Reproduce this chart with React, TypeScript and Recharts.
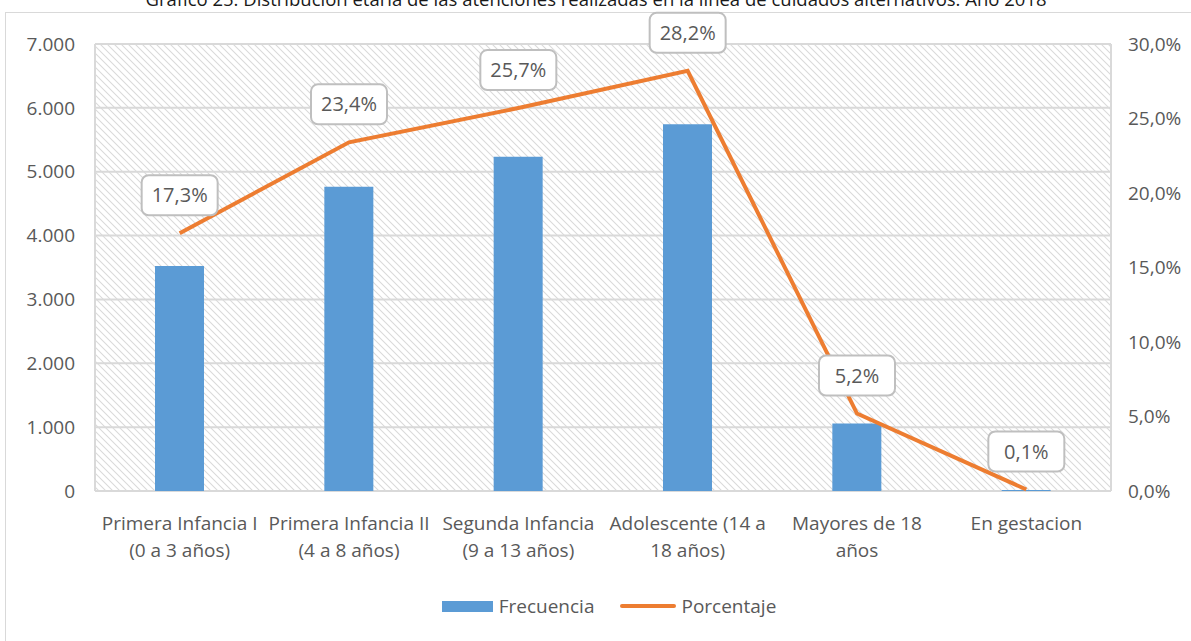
import { ComposedChart, Bar, Line, XAxis, YAxis, CartesianGrid, Legend, LabelList } from "recharts";

const CATEGORIES = [
  "Primera Infancia I\n(0 a 3 años)",
  "Primera Infancia II\n(4 a 8 años)",
  "Segunda Infancia\n(9 a 13 años)",
  "Adolescente  (14 a\n18 años)",
  "Mayores de 18\naños",
  "En gestacion",
];
const FRECUENCIA = [3523, 4765, 5234, 5743, 1059, 15];
const PORCENTAJE = [17.3, 23.4, 25.7, 28.2, 5.2, 0.1];
const LEFT_TICKS = [0, 1000, 2000, 3000, 4000, 5000, 6000, 7000];
const RIGHT_TICKS = [0, 5, 10, 15, 20, 25, 30];
const BOUNDS = [0, 1, 2, 3, 4, 5, 6];

const FONT = "'Liberation Sans Narrow', 'Arial Narrow', 'Open Sans', sans-serif";
const TEXT = "#595959";
const GRID = "#d9d9d9";
const BLUE = "#5B9BD5";
const ORANGE = "#ED7D31";

const data = CATEGORIES.map((name, i) => ({
  name,
  frecuencia: FRECUENCIA[i],
  porcentaje: PORCENTAJE[i],
}));

const fmtThousands = (v: number) => String(v).replace(/\B(?=(\d{3})+(?!\d))/g, ".");
const fmtPct = (v: number) => v.toFixed(1).replace(".", ",") + "%";

const CategoryTick = ({ x, y, payload }: any) => {
  const lines = String(payload.value).split("\n");
  return (
    <text textAnchor="middle" fill={TEXT} fontSize={19} fontFamily={FONT}>
      {lines.map((l, i) => (
        <tspan key={i} x={x} y={y + 32 + i * 27} dy="0.35em">
          {l}
        </tspan>
      ))}
    </text>
  );
};

const PctLabel = ({ x, y, value }: any) => {
  const cy = y - 38;
  return (
    <g>
      <rect x={x - 38} y={cy - 20} width={76} height={40} rx={7} fill="#fff" stroke="#bfbfbf" strokeWidth={2} />
      <text x={x} y={cy} dy="0.35em" textAnchor="middle" fill={TEXT} fontSize={20} fontFamily={FONT}>
        {fmtPct(value)}
      </text>
    </g>
  );
};

const LegendContent = () => (
  <div style={{ display: "flex", justifyContent: "center", alignItems: "center", height: 30, fontFamily: FONT, fontSize: 19, color: TEXT, paddingLeft: 12 }}>
    <span style={{ display: "inline-block", width: 51, height: 11, background: BLUE, marginRight: 6 }} />
    <span style={{ marginRight: 26 }}>Frecuencia</span>
    <span style={{ display: "inline-block", width: 56, height: 4, borderRadius: 2, background: ORANGE, marginRight: 5 }} />
    <span>Porcentaje</span>
  </div>
);

export default function App() {
  return (
    <div style={{ position: "absolute", left: 0, top: 0, width: 1191, height: 641, background: "#fff", overflow: "hidden" }}>
      <div style={{ position: "absolute", left: 5, top: 12, width: 1300, height: 800, border: `1.5px solid ${GRID}` }} />
      <div style={{ position: "absolute", left: 0, top: 0 }}>
        <ComposedChart width={1191} height={641} data={data} margin={{ top: 44, right: 0, bottom: 20, left: 15 }}>
          <defs>
            <pattern id="hatch" patternUnits="userSpaceOnUse" width={7} height={7}>
              <path d="M0,0 L7,7 M-1,6 L1,8 M6,-1 L8,1" stroke="#dadada" strokeWidth={1.1} />
            </pattern>
          </defs>
          <XAxis
            xAxisId="grid"
            type="number"
            domain={[0, 6]}
            ticks={BOUNDS}
            height={0}
            tick={false}
            tickSize={10}
            tickLine={{ stroke: GRID, strokeWidth: 2 }}
            axisLine={false}
          />
          <XAxis
            xAxisId="cat"
            dataKey="name"
            height={100}
            interval={0}
            tickSize={0}
            tickMargin={0}
            tickLine={false}
            axisLine={false}
            tick={<CategoryTick />}
          />
          <YAxis
            yAxisId="left"
            width={80}
            domain={[0, 7000]}
            ticks={LEFT_TICKS}
            tickFormatter={fmtThousands}
            tickSize={0}
            tickMargin={20}
            axisLine={false}
            tickLine={false}
            tick={{ fill: TEXT, fontSize: 19, fontFamily: FONT }}
          />
          <YAxis
            yAxisId="right"
            orientation="right"
            width={80}
            domain={[0, 30]}
            ticks={RIGHT_TICKS}
            tickFormatter={fmtPct}
            tickSize={0}
            tickMargin={17}
            axisLine={false}
            tickLine={false}
            tick={{ fill: TEXT, fontSize: 19, fontFamily: FONT, textAnchor: "start" }}
          />
          <CartesianGrid
            xAxisId="grid"
            yAxisId="left"
            stroke={GRID}
            strokeWidth={2}
            fill="url(#hatch)"
            fillOpacity={1}
          />
          <Legend verticalAlign="bottom" height={30} content={<LegendContent />} />
          <Bar xAxisId="cat" yAxisId="left" dataKey="frecuencia" name="Frecuencia" fill={BLUE} barSize={49} isAnimationActive={false} />
          <Line
            xAxisId="cat"
            yAxisId="right"
            dataKey="porcentaje"
            name="Porcentaje"
            type="linear"
            stroke={ORANGE}
            strokeWidth={4}
            dot={false}
            isAnimationActive={false}
          >
            <LabelList dataKey="porcentaje" content={<PctLabel />} />
          </Line>
        </ComposedChart>
      </div>
      <div
        style={{
          position: "absolute",
          left: 0,
          top: -11,
          width: 1192,
          textAlign: "center",
          fontFamily: FONT,
          fontSize: 18.5,
          lineHeight: "20px",
          color: "#1a1a1a",
          whiteSpace: "nowrap",
        }}
      >
        Gráfico 25. Distribución etaria de las atenciones realizadas en la línea de cuidados alternativos. Año 2018
      </div>
    </div>
  );
}
